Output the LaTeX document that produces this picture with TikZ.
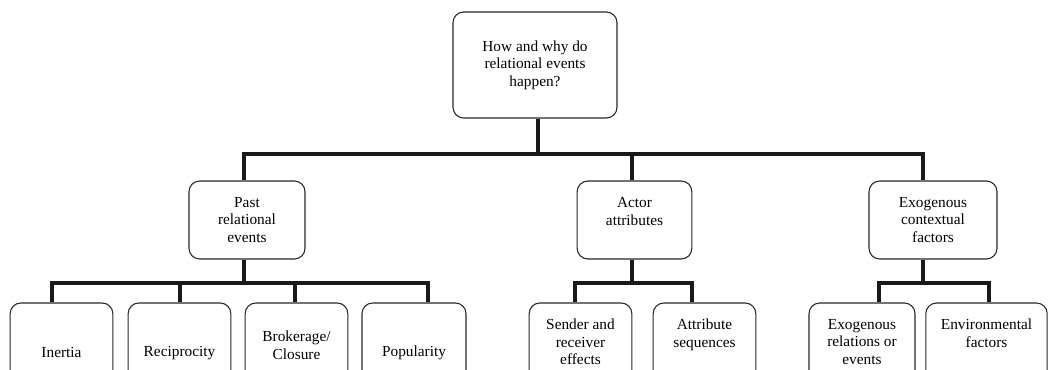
\documentclass[tikz,border=0pt]{standalone}
\usepackage{fontspec}
\setmainfont{Liberation Serif}
\usepackage{tikz}

\begin{document}
\begin{tikzpicture}[x=0.75pt, y=-0.75pt,
    box/.style={draw=black!85, line width=0.8pt, rounded corners=8pt, align=center,
        font=\fontsize{11.5}{13.2}\selectfont, inner sep=2pt, minimum height=58.5pt},
    conn/.style={draw=black!90, line width=3pt}]
    \clip (0,0) rectangle (1048,370);

    \node[box, minimum width=123pt, minimum height=79.5pt] (q) at (535,65) {How and why do\\relational events\\happen?};

    \node[box, minimum width=87pt] (past) at (247,220) {Past\\relational\\events};
    \node[box, minimum width=86pt] (actor) at (634.5,220) {Actor\\attributes\\~};
    \node[box, minimum width=96pt] (exo) at (933,220) {Exogenous\\contextual\\factors};

    \node[box, minimum width=77pt] (ine) at (61.5,342) {~\\~\\[-2.5pt]Inertia};
    \node[box, minimum width=77pt] (rec) at (179.5,342) {~\\~\\[-2.5pt]Reciprocity};
    \node[box, minimum width=77pt] (bro) at (296.5,342) {~\\Brokerage/\\Closure};
    \node[box, minimum width=78pt] (pop) at (414,342) {~\\~\\[-2.5pt]Popularity};
    \node[box, minimum width=77pt] (snd) at (580.5,342) {Sender and\\receiver\\effects};
    \node[box, minimum width=77pt] (att) at (704.5,342) {Attribute\\sequences\\~};
    \node[box, minimum width=79.5pt] (exr) at (862,342) {Exogenous\\relations or\\events};
    \node[box, minimum width=91pt] (env) at (986.5,342) {Environmental\\factors\\~};

    \draw[conn] ([shift={(3,0)}]q.south) -- ++(0,35) -| ([shift={(-3,0)}]past.north);
    \draw[conn] ([shift={(3,0)}]q.south) -- ++(0,35) -| ([shift={(-2.5,0)}]actor.north);
    \draw[conn] ([shift={(3,0)}]q.south) -- ++(0,35) -| ([shift={(-10,0)}]exo.north);

    \draw[conn] ([shift={(-3,0)}]past.south) -- ++(0,23) -| ([shift={(-9.5,0)}]ine.north);
    \draw[conn] ([shift={(-3,0)}]past.south) -- ++(0,23) -| (rec.north);
    \draw[conn] ([shift={(-3,0)}]past.south) -- ++(0,23) -| ([shift={(-1.5,0)}]bro.north);
    \draw[conn] ([shift={(-3,0)}]past.south) -- ++(0,23) -| ([shift={(14,0)}]pop.north);

    \draw[conn] ([shift={(-2.5,0)}]actor.south) -- ++(0,23) -| ([shift={(-5.5,0)}]snd.north);
    \draw[conn] ([shift={(-2.5,0)}]actor.south) -- ++(0,23) -| ([shift={(-12.5,0)}]att.north);

    \draw[conn] ([shift={(-10,0)}]exo.south) -- ++(0,23) -| ([shift={(17,0)}]exr.north);
    \draw[conn] ([shift={(-10,0)}]exo.south) -- ++(0,23) -| ([shift={(2.5,0)}]env.north);

\end{tikzpicture}
\end{document}
